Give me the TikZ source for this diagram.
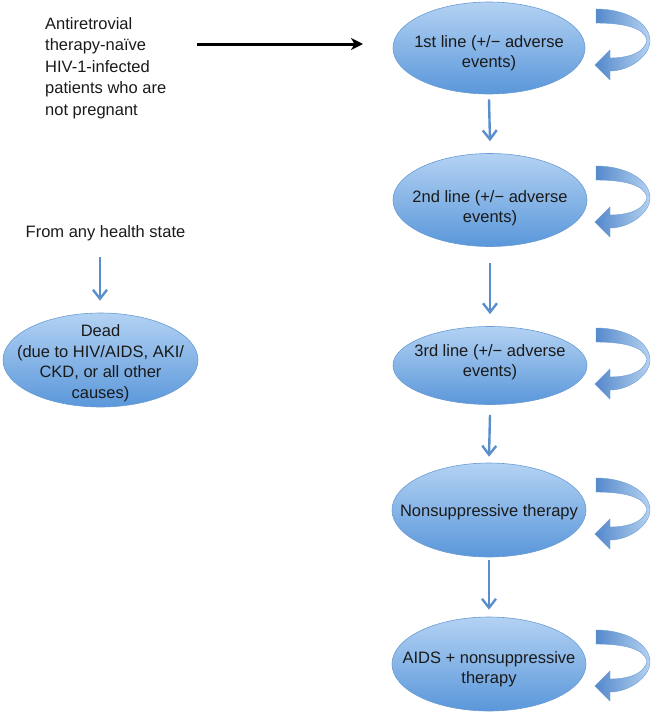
\documentclass[tikz,border=0pt]{standalone}
\usepackage{fontspec}
\setmainfont{Liberation Sans}
\usetikzlibrary{shapes.geometric,arrows.meta}
\definecolor{arrowblue}{HTML}{5B8FCB}
\definecolor{ellTop}{HTML}{B3D2F3}
\definecolor{ellBot}{HTML}{5A97DA}
\definecolor{ellLine}{HTML}{6A9BD3}
\definecolor{loopDark}{HTML}{5388CB}
\definecolor{loopLight}{HTML}{B7D3F2}
\definecolor{txtcol}{HTML}{1A1A1A}
\tikzset{
  state/.style={ellipse, draw=ellLine, line width=0.6pt, top color=ellTop, bottom color=ellBot, inner sep=0pt},
  txt/.style={text=txtcol, align=center, inner sep=0pt, font=\fontsize{16.5}{20.5}\selectfont},
  flow/.style={draw=arrowblue, line width=2.4pt, -{Straight Barb[length=9pt,width=14pt]}},
  entry/.style={draw=black, line width=3pt, -{Stealth[length=12pt,width=12pt,inset=3.5pt]}},
  selfloop/.pic={
    \path[draw=ellLine, line width=0.4pt, left color=loopDark, right color=loopLight]
      (0,0) .. controls (29,0) and (53,13) .. (54,31)
      .. controls (55,46) and (34,62) .. (14,62)
      -- (14,71) -- (-1,56) -- (14,41) -- (14,49)
      .. controls (34,49) and (49,43) .. (51,31)
      .. controls (48,19) and (29,14) .. (0,14) -- cycle;
  }
}
\begin{document}
\begin{tikzpicture}[x=1pt,y=-1pt]
\useasboundingbox (0,0) rectangle (651,713);

% states
\node[state, minimum width=192pt, minimum height=92pt] (e1) at (489,48) {};
\node[state, minimum width=194pt, minimum height=93pt] (e2) at (490,200) {};
\node[state, minimum width=194pt, minimum height=78pt] (e3) at (490,365.5) {};
\node[state, minimum width=194pt, minimum height=94pt] (e4) at (489,510) {};
\node[state, minimum width=194pt, minimum height=94pt] (e5) at (489,664) {};
\node[state, minimum width=195pt, minimum height=94pt] (dead) at (100.5,360) {};

% texts
\node[txt] (t1) at (489,53) {1st line (+/− adverse\\events)};
\node[txt] (t2) at (490,208) {2nd line (+/− adverse\\events)};
\node[txt] (t3) at (490,362) {3rd line (+/− adverse\\events)};
\node[txt] (t4) at (489,512) {Nonsuppressive therapy};
\node[txt] (t5) at (489,669) {AIDS + nonsuppressive\\therapy};
\node[txt] (td) at (100.5,363) {Dead\\(due to HIV/AIDS, AKI/\\CKD, or all other\\causes)};

\node[txt, align=left, anchor=north west, font=\fontsize{16.5}{21.5}\selectfont] (start) at (45,17)
  {Antiretrovial\\therapy-naïve\\HIV-1-infected\\patients who are\\not pregnant};
\node[txt] (any) at (105.5,233) {From any health state};

% connectors
\coordinate (entryA) at (197,44);
\coordinate (entryB) at (363,44);
\draw[entry] (entryA) -- (entryB);

\draw[flow] ([yshift=-5pt]e1.south) -- ([yshift=12pt]e2.north);
\draw[flow] ([yshift=-16pt]e2.south) -- ([yshift=12pt]e3.north);
\draw[flow] ([yshift=-10pt]e3.south) -- ([yshift=6pt]e4.north);
\draw[flow] ([yshift=-3pt]e4.south) -- ([yshift=7pt]e5.north);
\draw[flow] ([shift={(-5.5,16)}]any.south) -- ([shift={(-0.5,-12)}]dead.north);

% self loops
\pic at (596,9) {selfloop};
\pic at (596,166) {selfloop};
\pic at (596,328) {selfloop};
\pic at (596,478) {selfloop};
\pic at (596,630) {selfloop};
\end{tikzpicture}
\end{document}
